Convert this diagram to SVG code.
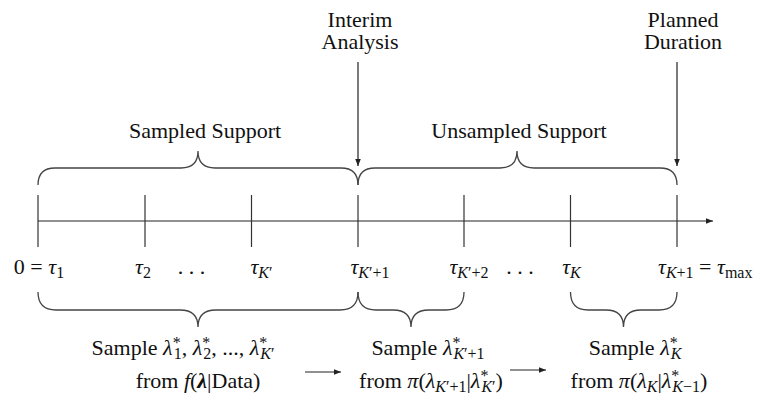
<svg xmlns="http://www.w3.org/2000/svg" width="766" height="399" viewBox="0 0 766 399">
<defs>
<marker id="ah" viewBox="0 0 10 10" refX="10" refY="5" markerWidth="7" markerHeight="7" markerUnits="userSpaceOnUse" orient="auto">
<path d="M0,1 L10,5 L0,9 Z" fill="#222"/>
</marker>
<style>
text{font-family:'Liberation Serif','DejaVu Serif',serif;font-size:22px;fill:#111}
.i{font-style:italic}
.s{font-size:16px}
.b{font-weight:bold;font-style:italic}
.ln{stroke:#333;stroke-width:1.2;fill:none}
.br{stroke:#444;stroke-width:1.3;fill:none}
.ar{stroke:#222;stroke-width:1.2;fill:none;marker-end:url(#ah)}
</style>
</defs>
<rect width="766" height="399" fill="#fff"/>

<g id="axis">
<line class="ar" x1="38" y1="221" x2="713" y2="221"/>
<line class="ln" x1="38" y1="195" x2="38" y2="247"/>
<line class="ln" x1="145" y1="195" x2="145" y2="247"/>
<line class="ln" x1="251.5" y1="195" x2="251.5" y2="247"/>
<line class="ln" x1="358" y1="195" x2="358" y2="247"/>
<line class="ln" x1="464" y1="195" x2="464" y2="247"/>
<line class="ln" x1="570.5" y1="195" x2="570.5" y2="247"/>
<line class="ln" x1="677" y1="195" x2="677" y2="247"/>
</g>

<g font-family="'Liberation Serif', 'DejaVu Serif', serif">
<g id="interim">
<text x="360" y="27" text-anchor="middle">Interim</text>
<text x="360" y="49" text-anchor="middle">Analysis</text>
</g>
<g id="planned">
<text x="683" y="27" text-anchor="middle">Planned</text>
<text x="683" y="49" text-anchor="middle">Duration</text>
</g>

<g id="sampled-support">
<path class="br" d="M38,185 Q38,168 55,168 L181,168 Q198,168 198,151 Q198,168 215,168 L341,168 Q358,168 358,185"/>
<text x="205" y="138" text-anchor="middle">Sampled Support</text>
</g>
<g id="unsampled-support">
<path class="br" d="M358,185 Q358,168 375,168 L500,168 Q517,168 517,151 Q517,168 534,168 L660,168 Q677,168 677,185"/>
<text x="519" y="138" text-anchor="middle">Unsampled Support</text>
</g>

<g id="tick-labels">
<text x="39" y="274" text-anchor="middle">0 = <tspan class="i">τ</tspan><tspan class="s" dy="4">1</tspan></text>
<text x="143" y="274" text-anchor="middle"><tspan class="i">τ</tspan><tspan class="s" dy="4">2</tspan></text>
<text x="191.5" y="274" text-anchor="middle">. . .</text>
<text x="261.5" y="274" text-anchor="middle"><tspan class="i">τ</tspan><tspan class="s i" dy="4">K</tspan><tspan class="s">′</tspan></text>
<text x="370" y="274" text-anchor="middle"><tspan class="i">τ</tspan><tspan class="s i" dy="4">K</tspan><tspan class="s">′+1</tspan></text>
<text x="469" y="274" text-anchor="middle"><tspan class="i">τ</tspan><tspan class="s i" dy="4">K</tspan><tspan class="s">′+2</tspan></text>
<text x="520" y="274" text-anchor="middle">. . .</text>
<text x="571.5" y="274" text-anchor="middle"><tspan class="i">τ</tspan><tspan class="s i" dy="4">K</tspan></text>
<text x="658" y="274"><tspan class="i">τ</tspan><tspan class="s i" dy="4">K</tspan><tspan class="s">+1</tspan><tspan dy="-4"> = </tspan><tspan class="i">τ</tspan><tspan class="s" dy="4">max</tspan></text>
</g>

<g id="step1">
<path class="br" d="M38,292 Q38,310 56,310 L180,310 Q198,310 198,327 Q198,310 216,310 L340,310 Q358,310 358,292"/>
<text x="183" y="355" text-anchor="middle">Sample <tspan class="i">λ</tspan><tspan class="s" dy="-7">*</tspan><tspan class="s" dx="-7" dy="11">1</tspan><tspan dy="-4">, </tspan><tspan class="i">λ</tspan><tspan class="s" dy="-7">*</tspan><tspan class="s" dx="-7" dy="11">2</tspan><tspan dy="-4">, ..., </tspan><tspan class="i">λ</tspan><tspan class="s" dy="-7">*</tspan><tspan class="s i" dx="-7" dy="11">K</tspan><tspan class="s">′</tspan></text>
<text x="198" y="388" text-anchor="middle">from <tspan class="i">f</tspan>(<tspan class="b">λ</tspan>|Data)</text>
</g>

<g id="step2">
<path class="br" d="M358,292 Q358,310 376,310 L393,310 Q411,310 411,327 Q411,310 429,310 L446,310 Q464,310 464,292"/>
<text x="428" y="355" text-anchor="middle">Sample <tspan class="i">λ</tspan><tspan class="s" dy="-7">*</tspan><tspan class="s i" dx="-7" dy="11">K</tspan><tspan class="s">′+1</tspan></text>
<text x="431" y="388" text-anchor="middle">from <tspan class="i">π</tspan>(<tspan class="i">λ</tspan><tspan class="s i" dy="4">K</tspan><tspan class="s">′+1</tspan><tspan dy="-4">|</tspan><tspan class="i">λ</tspan><tspan class="s" dy="-7">*</tspan><tspan class="s i" dx="-7" dy="11">K</tspan><tspan class="s">′</tspan><tspan dy="-4">)</tspan></text>
</g>

<g id="step3">
<path class="br" d="M570.5,292 Q570.5,310 588,310 L606,310 Q623.5,310 623.5,327 Q623.5,310 641,310 L659,310 Q677,310 677,292"/>
<text x="635" y="355" text-anchor="middle">Sample <tspan class="i">λ</tspan><tspan class="s" dy="-7">*</tspan><tspan class="s i" dx="-7" dy="11">K</tspan></text>
<text x="639" y="388" text-anchor="middle">from <tspan class="i">π</tspan>(<tspan class="i">λ</tspan><tspan class="s i" dy="4">K</tspan><tspan dy="-4">|</tspan><tspan class="i">λ</tspan><tspan class="s" dy="-7">*</tspan><tspan class="s i" dx="-7" dy="11">K</tspan><tspan class="s">−1</tspan><tspan dy="-4">)</tspan></text>
</g>
</g>

<g id="connectors">
<line class="ar" x1="358" y1="62" x2="358" y2="166"/>
<line class="ar" x1="677" y1="62" x2="677" y2="166"/>
<line class="ar" x1="305" y1="372" x2="341" y2="372"/>
<line class="ar" x1="510" y1="370" x2="546" y2="370"/>
</g>
</svg>
